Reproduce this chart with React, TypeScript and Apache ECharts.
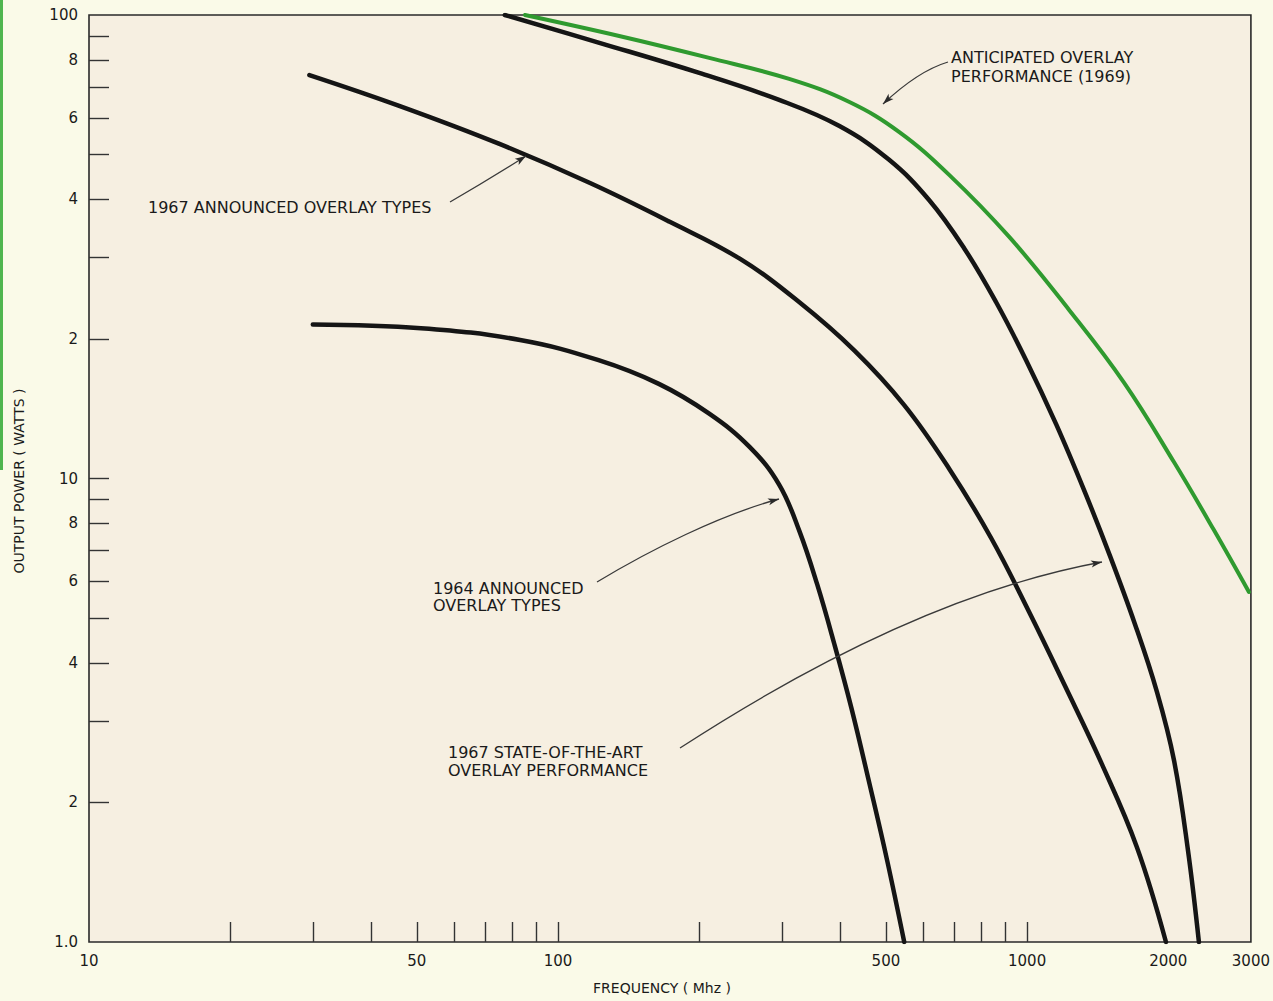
import React, { useEffect, useRef } from 'react';
import * as echarts from 'echarts';

// ---- Data (frequency in MHz, output power in watts) ----
const freq1964 = [30, 51, 83, 122, 164, 210, 256, 296, 327, 357, 388, 422, 461, 503, 547];
const power1964 = [21.5, 21.1, 19.9, 18.0, 16.0, 13.8, 11.7, 9.7, 7.7, 5.9, 4.4, 3.2, 2.2, 1.5, 1.0];

const freq1967 = [29.5, 46, 75, 117, 173, 244, 327, 428, 547, 682, 838, 1010, 1204, 1438, 1715, 1977];
const power1967 = [74.2, 63.6, 52.7, 43.4, 35.8, 29.8, 24.0, 18.9, 14.4, 10.5, 7.44, 5.15, 3.57, 2.44, 1.6, 1.0];

const freqStateOfArt = [77, 123, 200, 296, 398, 508, 618, 734, 859, 995, 1153, 1322, 1502, 1698, 1892, 2056, 2202, 2324];
const powerStateOfArt = [100, 87.0, 75.0, 65.6, 57.6, 48.7, 39.9, 31.4, 24.0, 18.0, 13.1, 9.45, 6.81, 4.85, 3.46, 2.47, 1.58, 1.0];

const freq1969 = [85, 135, 210, 311, 418, 534, 682, 916, 1229, 1609, 2056, 2502, 2971];
const power1969 = [100, 90.1, 80.8, 72.8, 64.9, 55.9, 45.2, 33.2, 23.1, 16.1, 10.85, 7.74, 5.69];

const xTickValues = [20, 30, 40, 50, 60, 70, 80, 90, 100, 200, 300, 400, 500, 600, 700, 800, 900, 1000];
const xLabelValues = [10, 50, 100, 500, 1000, 2000, 3000];
const yTickValues = [2, 3, 4, 5, 6, 7, 8, 9, 10, 20, 30, 40, 50, 60, 70, 80, 90];
const yLabelValues = [1, 2, 4, 6, 8, 10, 20, 40, 60, 80, 100];
const yLabelTexts = ['1.0', '2', '4', '6', '8', '10', '2', '4', '6', '8', '100'];

const lg = (v: number) => Math.log10(v);
const toData = (f: number[], p: number[]) => f.map((x, i) => [lg(x), lg(p[i])]);

const FONT = 'DejaVu Sans';
const INK = '#1a1a1a';

function arrowHead(tip: [number, number], from: [number, number]) {
  const dx = tip[0] - from[0];
  const dy = tip[1] - from[1];
  const len = Math.hypot(dx, dy) || 1;
  const ux = dx / len;
  const uy = dy / len;
  const L = 11;
  const W = 3.6;
  return {
    type: 'polygon',
    z: 20,
    shape: {
      points: [
        [tip[0], tip[1]],
        [tip[0] - L * ux + W * uy, tip[1] - L * uy - W * ux],
        [tip[0] - L * ux * 0.75, tip[1] - L * uy * 0.75],
        [tip[0] - L * ux - W * uy, tip[1] - L * uy + W * ux],
      ],
    },
    style: { fill: '#2a2a2a' },
  };
}

function cubicArrow(p0: [number, number], c1: [number, number], c2: [number, number], p1: [number, number]) {
  return [
    {
      type: 'bezierCurve',
      z: 20,
      shape: { x1: p0[0], y1: p0[1], cpx1: c1[0], cpy1: c1[1], cpx2: c2[0], cpy2: c2[1], x2: p1[0], y2: p1[1] },
      style: { stroke: '#3a3a3a', lineWidth: 1.3, fill: 'none' },
    },
    arrowHead(p1, c2),
  ];
}

function quadArrow(p0: [number, number], c: [number, number], p1: [number, number]) {
  return [
    {
      type: 'bezierCurve',
      z: 20,
      shape: { x1: p0[0], y1: p0[1], cpx1: c[0], cpy1: c[1], x2: p1[0], y2: p1[1] },
      style: { stroke: '#3a3a3a', lineWidth: 1.3, fill: 'none' },
    },
    arrowHead(p1, c),
  ];
}

function label(text: string, x: number, y: number, size = 16) {
  return {
    type: 'text',
    z: 20,
    x,
    y,
    style: { text, fontSize: size, fontFamily: FONT, fill: INK, align: 'left', verticalAlign: 'middle' },
  };
}

export default function App() {
  const ref = useRef<HTMLDivElement>(null);

  useEffect(() => {
    document.body.style.margin = '0';
    const chart = echarts.init(ref.current as HTMLDivElement, null, { renderer: 'svg' });

    const lineSeries = (name: string, f: number[], p: number[], color: string, width: number) => ({
      name,
      type: 'line',
      data: toData(f, p),
      showSymbol: false,
      symbol: 'none',
      smooth: 0.4,
      lineStyle: { color, width, cap: 'round', join: 'round' },
      z: 5,
    });

    const option: any = {
      animation: false,
      backgroundColor: '#fafae8',
      grid: {
        left: 89,
        right: 21,
        top: 15,
        bottom: 59,
        show: true,
        backgroundColor: '#f6efe1',
        borderColor: '#2a2a2a',
        borderWidth: 1.6,
      },
      xAxis: {
        type: 'value',
        min: lg(10),
        max: lg(3000),
        axisLine: { show: false },
        splitLine: { show: false },
        axisTick: {
          show: true,
          inside: true,
          length: 20,
          lineStyle: { color: '#333', width: 1.4 },
          customValues: xTickValues.map(lg),
        },
        axisLabel: {
          customValues: xLabelValues.map(lg),
          formatter: (v: number) => String(Math.round(Math.pow(10, v))),
          margin: 11,
          fontSize: 15,
          fontFamily: FONT,
          color: INK,
        },
      },
      yAxis: {
        type: 'value',
        min: lg(1),
        max: lg(100),
        axisLine: { show: false },
        splitLine: { show: false },
        axisTick: {
          show: true,
          inside: true,
          length: 20,
          lineStyle: { color: '#333', width: 1.4 },
          customValues: yTickValues.map(lg),
        },
        axisLabel: {
          customValues: yLabelValues.map(lg),
          formatter: (v: number) => {
            const i = yLabelValues.findIndex((w) => Math.abs(lg(w) - v) < 1e-6);
            return i >= 0 ? yLabelTexts[i] : '';
          },
          margin: 11,
          fontSize: 15,
          fontFamily: FONT,
          color: INK,
        },
      },
      series: [
        lineSeries('1964 announced overlay types', freq1964, power1964, '#151515', 4.5),
        lineSeries('1967 announced overlay types', freq1967, power1967, '#151515', 4.5),
        lineSeries('1967 state-of-the-art overlay performance', freqStateOfArt, powerStateOfArt, '#151515', 4.5),
        lineSeries('Anticipated overlay performance (1969)', freq1969, power1969, '#2f9a2f', 4),
      ],
      graphic: [
        { type: 'rect', z: 1, shape: { x: 0, y: 0, width: 3, height: 470 }, style: { fill: '#4fb54f' } },
        {
          type: 'text',
          z: 20,
          x: 19,
          y: 481,
          rotation: Math.PI / 2,
          style: { text: 'OUTPUT POWER ( WATTS )', fontSize: 14, fontFamily: FONT, fill: INK, align: 'center', verticalAlign: 'middle' },
        },
        {
          type: 'text',
          z: 20,
          x: 662,
          y: 988,
          style: { text: 'FREQUENCY ( Mhz )', fontSize: 14, fontFamily: FONT, fill: INK, align: 'center', verticalAlign: 'middle' },
        },
        label('1967 ANNOUNCED OVERLAY TYPES', 148, 207),
        ...quadArrow([450, 202], [488, 180], [526, 156]),
        label('1964 ANNOUNCED', 433, 588),
        label('OVERLAY TYPES', 433, 605),
        ...cubicArrow([597, 582], [650, 550], [720, 515], [779, 499]),
        label('1967 STATE-OF-THE-ART', 448, 752),
        label('OVERLAY PERFORMANCE', 448, 770),
        ...cubicArrow([680, 748], [800, 670], [950, 590], [1102, 562]),
        label('ANTICIPATED OVERLAY', 951, 57),
        label('PERFORMANCE (1969)', 951, 76),
        ...quadArrow([948, 62], [918, 71], [883, 104]),
      ],
    };

    chart.setOption(option);
    return () => chart.dispose();
  }, []);

  return <div ref={ref} style={{ width: 1273, height: 1001 }} />;
}
